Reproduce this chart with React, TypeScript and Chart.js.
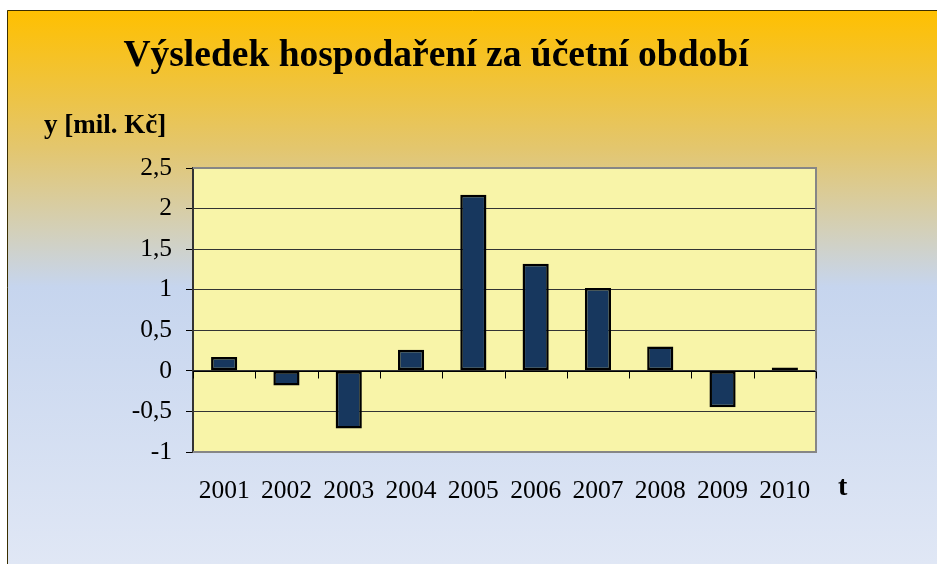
import React, { useEffect, useRef } from "react";
import { Chart, registerables } from "chart.js";

Chart.register(...registerables);

const years = ["2001", "2002", "2003", "2004", "2005", "2006", "2007", "2008", "2009", "2010"];
const result = [0.17, -0.18, -0.71, 0.26, 2.17, 1.32, 1.02, 0.3, -0.45, 0.04];
const yTicks = [-1, -0.5, 0, 0.5, 1, 1.5, 2, 2.5];
const titleText = "Výsledek hospodaření za účetní období";
const yLabel = "y [mil. Kč]";
const xLabel = "t";

const W = 937;
const H = 564;
const FONT = "'Liberation Serif', 'Times New Roman', serif";

const decorPlugin = {
  id: "decor",
  beforeDraw(chart: any) {
    const { ctx, chartArea } = chart;
    ctx.save();
    ctx.fillStyle = "#ffffff";
    ctx.fillRect(0, 0, W, H);
    const g = ctx.createLinearGradient(0, 10, 0, H);
    g.addColorStop(0, "#FFC000");
    g.addColorStop(0.25, "#E3C66E");
    g.addColorStop(0.4, "#D3D0BA");
    g.addColorStop(0.5, "#C6D5EE");
    g.addColorStop(1, "#E0E7F5");
    ctx.fillStyle = g;
    ctx.fillRect(7, 10, W - 7, H - 10);
    ctx.strokeStyle = "#3a2e00";
    ctx.lineWidth = 1;
    ctx.beginPath();
    ctx.moveTo(7.5, H);
    ctx.lineTo(7.5, 10.5);
    ctx.lineTo(W, 10.5);
    ctx.stroke();
    ctx.fillStyle = "#F8F4A8";
    ctx.fillRect(chartArea.left, chartArea.top, chartArea.right - chartArea.left, chartArea.bottom - chartArea.top);
    ctx.fillStyle = "#000";
    ctx.textBaseline = "middle";
    ctx.textAlign = "center";
    ctx.font = `bold 37.5px ${FONT}`;
    ctx.fillText(titleText, 436, 56);
    ctx.textAlign = "left";
    ctx.font = `bold 27px ${FONT}`;
    ctx.fillText(yLabel, 44, 126);
    ctx.font = `bold 28px ${FONT}`;
    ctx.fillText(xLabel, 838, 488);
    ctx.restore();
  },
  beforeDatasetsDraw(chart: any) {
    const { ctx, chartArea } = chart;
    ctx.save();
    ctx.strokeStyle = "#868686";
    ctx.lineWidth = 2;
    ctx.beginPath();
    ctx.moveTo(chartArea.left, chartArea.top);
    ctx.lineTo(chartArea.right, chartArea.top);
    ctx.lineTo(chartArea.right, chartArea.bottom);
    ctx.lineTo(chartArea.left, chartArea.bottom);
    ctx.stroke();
    ctx.restore();
  },
  afterDatasetsDraw(chart: any) {
    const { ctx, chartArea, scales } = chart;
    const x = scales.x;
    const y = scales.y;
    const y0 = Math.round(y.getPixelForValue(0)) + 0.5;
    ctx.save();
    ctx.strokeStyle = "#000";
    ctx.lineWidth = 1;
    ctx.beginPath();
    ctx.moveTo(chartArea.left, y0);
    ctx.lineTo(chartArea.right, y0);
    const step = x.getPixelForValue(1) - x.getPixelForValue(0);
    for (let i = 0; i <= years.length; i++) {
      const px = Math.round(x.getPixelForValue(i) - step / 2) + 0.5;
      ctx.moveTo(px, y0);
      ctx.lineTo(px, y0 + 7);
    }
    ctx.stroke();
    ctx.restore();
  },
};

export default function App() {
  const ref = useRef<HTMLCanvasElement>(null);
  useEffect(() => {
    document.body.style.margin = "0";
    const chart = new Chart(ref.current!, {
      type: "bar",
      data: {
        labels: years,
        datasets: [
          {
            data: result,
            backgroundColor: "#17375E",
            borderColor: "#000000",
            borderWidth: 2.5,
            borderSkipped: false,
            barPercentage: 0.42,
            categoryPercentage: 1,
          },
        ],
      },
      options: {
        responsive: false,
        animation: false,
        devicePixelRatio: 1,
        layout: { padding: { left: 0, top: 168, right: 121, bottom: 0 } },
        plugins: { legend: { display: false }, tooltip: { enabled: false }, title: { display: false } },
        scales: {
          x: {
            grid: { display: false },
            border: { display: false },
            ticks: { color: "#000", font: { family: FONT, size: 25.5 }, padding: 16, maxRotation: 0, autoSkip: false },
            afterFit(scale: any) {
              scale.height = 112;
            },
          },
          y: {
            min: -1,
            max: 2.5,
            afterBuildTicks(scale: any) {
              scale.ticks = yTicks.map((v) => ({ value: v }));
            },
            grid: { color: "#333333", lineWidth: 1, tickLength: 7, tickColor: "#000" },
            border: { display: true, color: "#333", width: 2 },
            ticks: {
              color: "#000",
              font: { family: FONT, size: 25.5 },
              padding: 14,
              callback: (v: any) => String(v).replace(".", ","),
            },
            afterFit(scale: any) {
              scale.width = 193;
            },
          },
        },
      },
      plugins: [decorPlugin],
    });
    return () => chart.destroy();
  }, []);
  return (
    <div style={{ width: W, height: H }}>
      <canvas ref={ref} width={W} height={H} style={{ display: "block" }} />
    </div>
  );
}
